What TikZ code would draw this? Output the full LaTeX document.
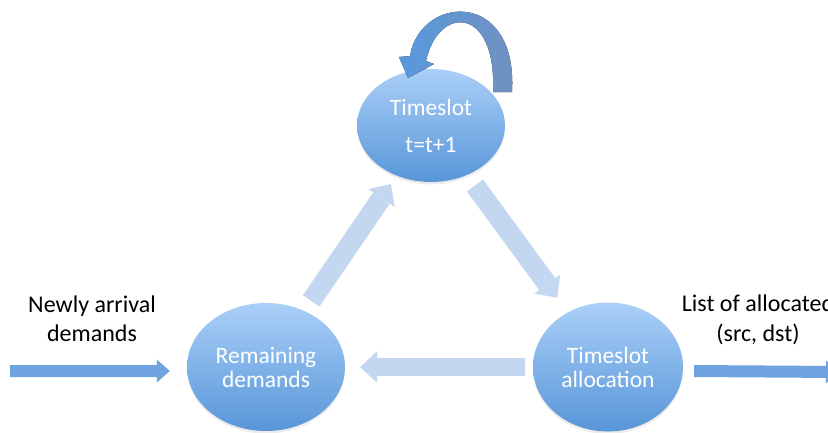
\documentclass[tikz,border=0pt]{standalone}
\usepackage{fontspec}
\setmainfont{Carlito}
\usetikzlibrary{arrows.meta,shapes.geometric,shadows,calc}

\definecolor{ellTop}{RGB}{170,207,248}
\definecolor{ellBot}{RGB}{88,150,216}
\definecolor{flowArrow}{RGB}{196,215,240}
\definecolor{ioArrow}{RGB}{110,163,224}
\definecolor{loopLeft}{RGB}{88,153,222}
\definecolor{loopRight}{RGB}{114,145,192}

\tikzset{
  stage/.style={ellipse, inner sep=0pt, top color=ellTop, bottom color=ellBot,
    text=white, align=center, font=\fontsize{23.5bp}{24bp}\selectfont,
    drop shadow={opacity=0.15, shadow xshift=0bp, shadow yshift=-2.5bp}},
  caption/.style={align=center, inner sep=0pt, text=black,
    font=\fontsize{24bp}{29bp}\selectfont},
  flow/.style={draw=flowArrow, line width=#1, line cap=butt,
    -{Triangle[length=17bp, width=32bp, line width=0pt]}},
  flow/.default=20bp,
  io/.style={draw=ioArrow, line width=12bp, line cap=butt,
    -{Triangle[length=13bp, width=23bp, line width=0pt]}},
}

\begin{document}
\begin{tikzpicture}[x=1bp, y=-1bp]
  \useasboundingbox (0,0) rectangle (828,432);
  \clip (0,0) rectangle (828,432);

  % the three stages of the scheduling loop
  \node[stage, minimum width=148bp, minimum height=113bp,
        font=\fontsize{23.5bp}{37bp}\selectfont] (T) at (431,125.5) {Timeslot\\t=t+1};
  \node[stage, minimum width=158bp, minimum height=128bp] (R) at (266,367) {Remaining\\demands};
  \node[stage, minimum width=150bp, minimum height=129bp] (A) at (608,367) {Timeslot\\allocation};

  % outside labels
  \node[caption] (inLbl) at (92,319) {Newly arrival\\demands};
  \node[caption, font=\fontsize{24bp}{30bp}\selectfont] (outLbl) at (758,320) {List of allocated\\(src, dst)};

  % flow between the stages
  \draw[flow, shorten <=12bp, shorten >=10bp] (R) -- (T);
  \draw[flow, shorten <=13bp, shorten >=18bp] (T) -- (A);
  \draw[flow=18bp, shorten <=8bp, shorten >=15bp] (A) -- (R);

  % input and output
  \coordinate (inTail) at (10,371);
  \coordinate (outHead) at (839,372);
  \draw[io] (inTail) -- ([xshift=-17bp, yshift=-4bp]R.west);
  \draw[io] ([xshift=11bp, yshift=-4bp]A.east) -- (outHead);

  % curved self-loop over the timeslot stage
  \fill[left color=loopLeft, middle color=loopLeft, right color=loopRight]
    (410,56) .. controls (420,-5) and (518,-12) .. (512,92)
    -- (493,92) .. controls (497,5) and (438,5) .. (426,61)
    -- (434,64) -- (408,78) -- (399,57) -- cycle;
\end{tikzpicture}
\end{document}
